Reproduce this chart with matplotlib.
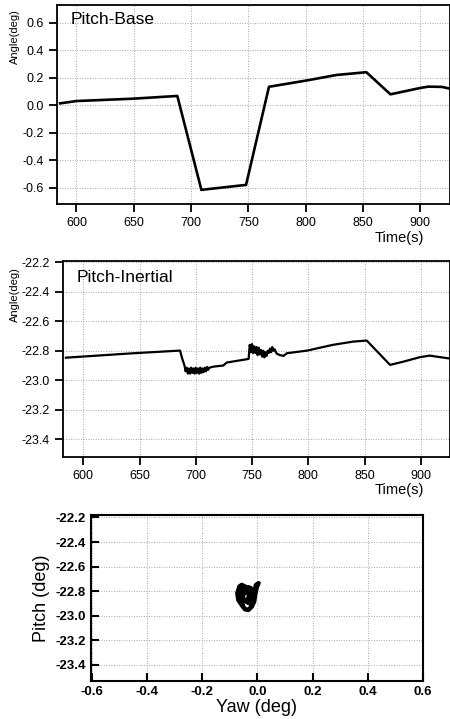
import matplotlib
matplotlib.use("Agg")
import matplotlib.pyplot as plt
import numpy as np

plt.rcParams['font.family'] = ['Liberation Sans', 'DejaVu Sans']

# Pitch-Base time history
base_t = [585.7, 600, 649, 688, 709, 748, 768, 801, 827, 853, 874, 900, 907, 919, 926]
base_v = [0.013, 0.030, 0.047, 0.067, -0.617, -0.581, 0.134, 0.180, 0.220, 0.240,
          0.079, 0.125, 0.135, 0.133, 0.120]

# Pitch-Inertial time history
inert_t = [584.6, 644.5, 686, 688.3, 690, 691, 692, 693, 694, 695, 696, 697, 698, 699,
           700, 701, 702, 703, 704, 705, 706, 707, 708, 709, 710, 711, 712, 715.6,
           724.5, 727.5, 745, 747, 748, 749, 750, 751, 752, 753, 754, 755, 756, 757,
           758, 759, 760, 761, 762, 763, 764, 765, 766, 767, 768, 769, 770, 772, 775,
           778, 781, 799, 822, 840, 852, 872.7, 884.6, 899, 908, 914, 926]
inert_v = [-22.847, -22.817, -22.799, -22.862, -22.90, -22.94, -22.915, -22.955, -22.92,
           -22.955, -22.915, -22.95, -22.92, -22.955, -22.915, -22.95, -22.92, -22.955,
           -22.915, -22.95, -22.92, -22.945, -22.915, -22.94, -22.91, -22.93, -22.915,
           -22.908, -22.90, -22.88, -22.858, -22.855, -22.76, -22.81, -22.755, -22.815,
           -22.77, -22.815, -22.775, -22.83, -22.78, -22.825, -22.795, -22.84, -22.80,
           -22.845, -22.81, -22.835, -22.80, -22.815, -22.785, -22.81, -22.775, -22.80,
           -22.79, -22.82, -22.83, -22.835, -22.817, -22.799, -22.76, -22.738, -22.731,
           -22.896, -22.874, -22.844, -22.833, -22.84, -22.853]

# Yaw vs pitch trajectory
yaw = [-0.0327, -0.029, -0.024, -0.0145, -0.005, 0.004, -0.002, -0.0085, -0.012,
       -0.0206, -0.0327, -0.0448, -0.0569, -0.069, -0.0726, -0.0653, -0.0569,
       -0.0448, -0.0387, -0.0508, -0.0532, -0.0411, -0.029, -0.0206, -0.0145,
       -0.0169, -0.024, -0.0327, -0.0448, -0.0610, -0.0650, -0.0560]
pitch = [-22.858, -22.812, -22.818, -22.839, -22.750, -22.736, -22.763, -22.831,
         -22.885, -22.926, -22.953, -22.948, -22.912, -22.872, -22.818, -22.763,
         -22.750, -22.763, -22.804, -22.823, -22.858, -22.885, -22.899, -22.872,
         -22.845, -22.804, -22.777, -22.769, -22.790, -22.780, -22.840, -22.900]

time_ticks = [600, 650, 700, 750, 800, 850, 900]


def style_time_axis(ax):
    ax.grid(True, linestyle=(0, (1, 2)), color='0.55', linewidth=0.6)
    for s in ax.spines.values():
        s.set_linewidth(1.3)
    ax.tick_params(direction='out', length=6, width=1.3, labelsize=9)
    ax.set_xticks(time_ticks)


fig = plt.figure(figsize=(4.5, 7.19), dpi=100)

# top panel
ax1 = fig.add_axes([0.1267, 0.7163, 0.8733, 0.2768])
ax1.plot(base_t, base_v, color='black', linewidth=1.9)
ax1.set_xlim(583, 926)
ax1.set_ylim(-0.72, 0.73)
ax1.set_yticks([-0.6, -0.4, -0.2, 0.0, 0.2, 0.4, 0.6])
ax1.yaxis.set_major_formatter(matplotlib.ticker.FormatStrFormatter('%.1f'))
style_time_axis(ax1)
ax1.text(0.035, 0.925, 'Pitch-Base', transform=ax1.transAxes, fontsize=12.5,
         va='center', ha='left')
fig.text(0.033, 0.949, 'Angle(deg)', rotation=90, fontsize=8, ha='center', va='center')
fig.text(0.887, 0.669, 'Time(s)', fontsize=10.5, ha='center', va='center')

# middle panel
ax2 = fig.add_axes([0.14, 0.3644, 0.86, 0.273])
ax2.plot(inert_t, inert_v, color='black', linewidth=1.6)
ax2.set_xlim(582, 926)
ax2.set_ylim(-23.52, -22.19)
ax2.set_yticks([-23.4, -23.2, -23.0, -22.8, -22.6, -22.4, -22.2])
ax2.yaxis.set_major_formatter(matplotlib.ticker.FormatStrFormatter('%.1f'))
style_time_axis(ax2)
ax2.text(0.035, 0.915, 'Pitch-Inertial', transform=ax2.transAxes, fontsize=12.5,
         va='center', ha='left')
fig.text(0.033, 0.59, 'Angle(deg)', rotation=90, fontsize=8, ha='center', va='center')
fig.text(0.887, 0.3185, 'Time(s)', fontsize=10.5, ha='center', va='center')

# bottom panel
ax3 = fig.add_axes([0.2016, 0.0533, 0.7378, 0.2304])
ax3.plot(yaw, pitch, color='black', linewidth=3.3, solid_joinstyle='round')
ax3.set_xlim(-0.605, 0.6)
ax3.set_ylim(-23.53, -22.18)
ax3.set_xticks([-0.6, -0.4, -0.2, 0.0, 0.2, 0.4, 0.6])
ax3.set_yticks([-23.4, -23.2, -23.0, -22.8, -22.6, -22.4, -22.2])
ax3.xaxis.set_major_formatter(matplotlib.ticker.FormatStrFormatter('%.1f'))
ax3.yaxis.set_major_formatter(matplotlib.ticker.FormatStrFormatter('%.1f'))
ax3.grid(True, linestyle=(0, (1, 2)), color='0.55', linewidth=0.6)
for s in ax3.spines.values():
    s.set_linewidth(1.5)
ax3.tick_params(direction='in', length=6, width=1.5, labelsize=9.5)
for lab in ax3.get_xticklabels() + ax3.get_yticklabels():
    lab.set_fontweight('bold')
ax3.set_xlabel('Yaw (deg)', fontsize=13, labelpad=1)
ax3.set_ylabel('Pitch (deg)', fontsize=13, labelpad=4)

fig.savefig('out.png', dpi=100)
